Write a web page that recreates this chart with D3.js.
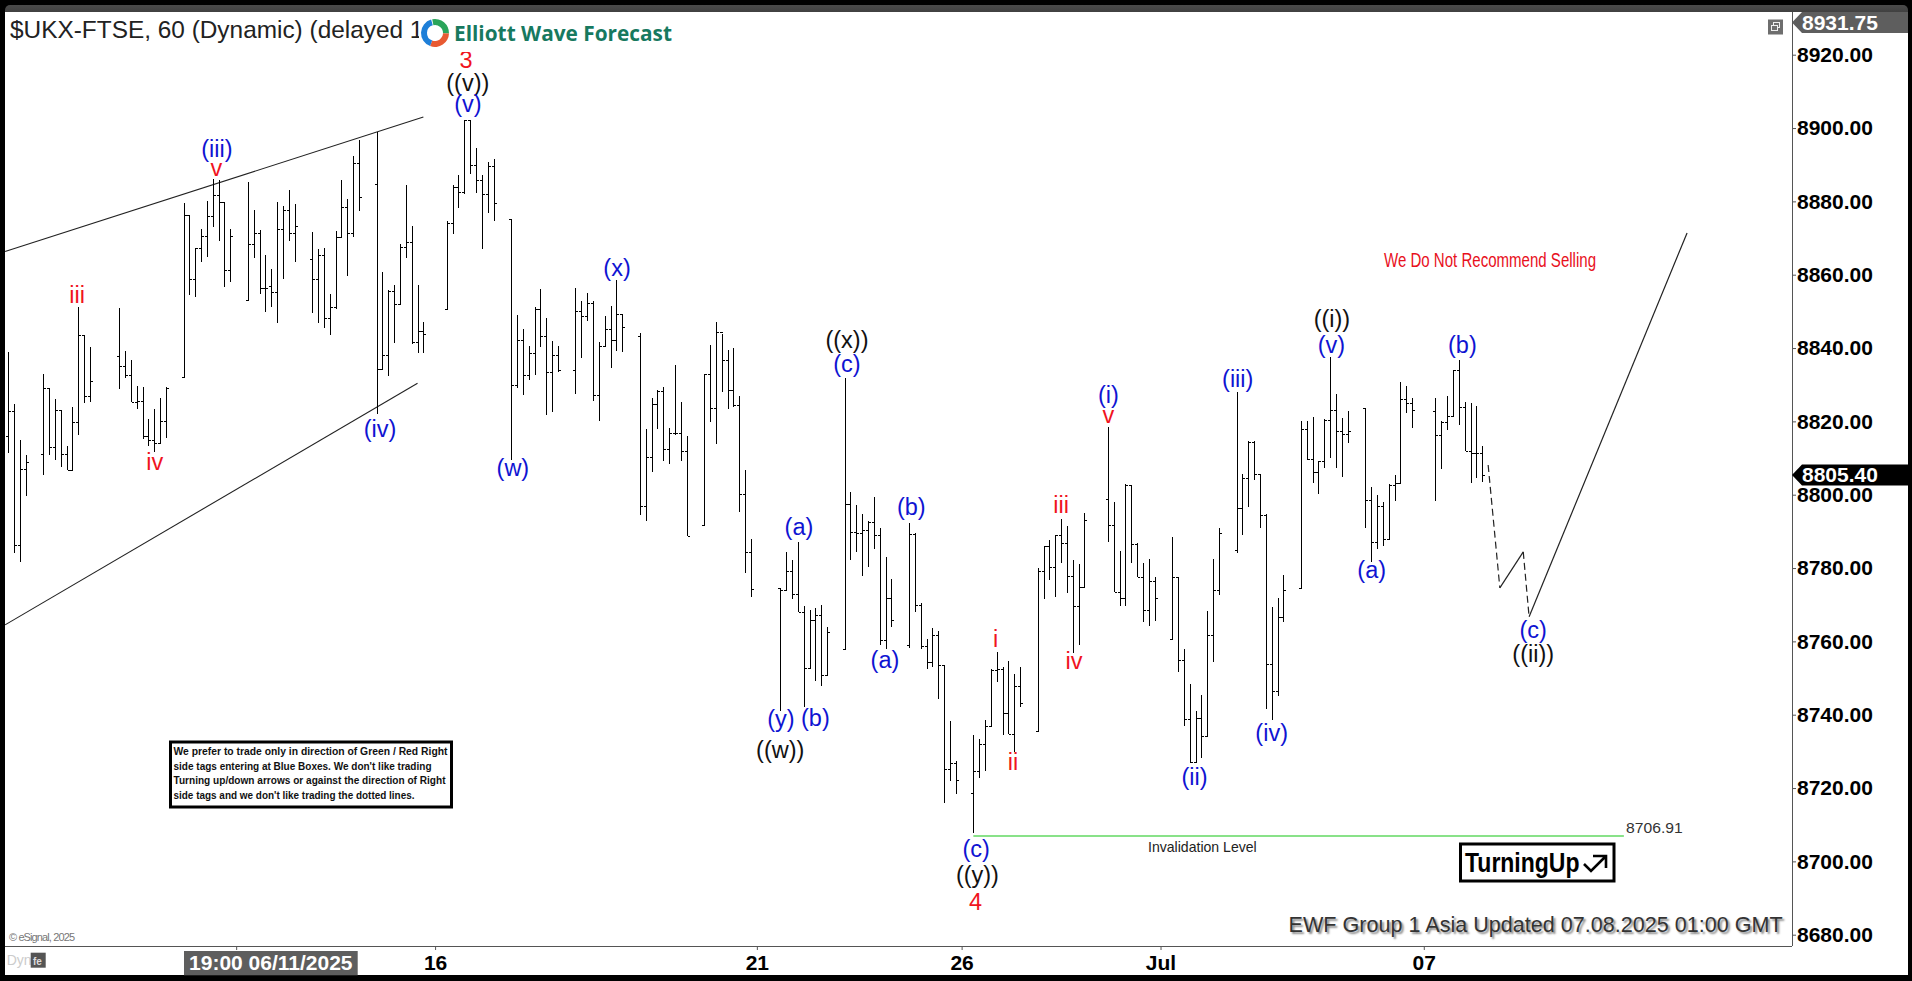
<!DOCTYPE html>
<html><head><meta charset="utf-8">
<script src="https://cdnjs.cloudflare.com/ajax/libs/d3/7.8.5/d3.min.js"></script>
<style>
html,body{margin:0;padding:0;background:#000;overflow:hidden}
svg{display:block}
text{font-family:"Liberation Sans",Arial,sans-serif}
</style></head><body><svg id="c" width="1912" height="981"></svg>
<script>
// Sessions on the slot axis
const sessionStarts=[0,6,19,30,41,52,63,75,86,97,108,119,132,143,154,165,176,188,199,210,221,232,244];
const sessionLengths=[4,9,9,9,9,9,9,9,9,9,9,9,9,9,9,9,9,9,9,9,9,9,9];
// OHLC series
const highs=[8838.9,8824.7,8814.9,8810.8,
8832.9,8829.1,8826.1,8823.1,8813.2,8823.9,8851.2,8843.5,8840.2,
8850.9,8839.2,8836.7,8829.6,8829.4,8820.6,8823.4,8826.4,8829.4,
8879.6,8876.3,8867.3,8872.5,8880.1,8886.1,8885.8,8879.8,8872.5,
8885.3,8877.6,8872.2,8865.4,8861.5,8879.8,8878.7,8883.1,8879.3,
8871.6,8867,8867.3,8854.7,8871.9,8885.8,8880.6,8892.4,8896.7,
8898.9,8860.7,8855.8,8857.2,8868.4,8884.4,8873.3,8857.2,8847.1,
8874.6,8884.4,8887.2,8902.2,8902.2,8894.5,8887.2,8890.7,8891.5,
8875.2,8849,8845.2,8840.5,8851.2,8856.1,8848.2,8841.9,8840.5,
8856.4,8852.8,8855,8852.8,8841.6,8848.7,8851.4,8858.5,8849.3,
8844.1,8817.9,8826.4,8828.5,8829.4,8818.2,8835.4,8825.3,8816,
8832.9,8840.8,8847.1,8843.8,8839.4,8840,8826.9,8806.7,8787.9,
8774.5,8784.4,8782.2,8787.1,8769.6,8768.5,8769.1,8769.9,8763.9,
8831.8,8800.7,8797.2,8794.7,8792.8,8799.4,8790.9,8783,8777,
8792.3,8789.5,8770.4,8760.6,8763.6,8762.8,8753.5,8738.3,8727.4,
8734.5,8733.4,8738.5,8752.4,8757.1,8753,8754.6,8751.1,8753,
8780,8786,8787.6,8789,8793.4,8791.5,8782.2,8781.1,8795,
8818.4,8798,8784.6,8802.9,8802.6,8786.8,8781.4,8782.5,8777.5,
8788.4,8777.5,8757.9,8748.4,8741,8745.4,8768.3,8782.5,8790.9,
8828,8805.6,8814.6,8814.6,8805.6,8794.7,8769.4,8771.8,8778.1,
8820,8820,8821.2,8809.2,8820.6,8837.5,8827.4,8820.9,8822.8,
8823.6,8802.1,8799.9,8798,8802.9,8805.4,8830.7,8829.6,8826.4,
8826.4,8820,8826.9,8834,8836.7,8825.3,8825,8824.2,8813.2];
const lows=[8811.3,8784,8781.6,8799.6,
8805.4,8810.8,8809.5,8807.5,8806.7,8806.7,8816.3,8825,8825.3,
8828.8,8831.8,8825.3,8823.4,8815.2,8813.2,8811.6,8814.1,8815.4,
8832.1,8854.5,8853.9,8863.4,8864.8,8873,8869.2,8856.6,8858,
8853.1,8864.5,8854.7,8849.8,8851.2,8846.8,8858.8,8869.2,8863.4,
8849.5,8846.8,8845.4,8843.5,8850.6,8870,8859.6,8870.3,8877.4,
8822,8834.3,8832.4,8841.4,8852,8864.5,8841.1,8838.6,8838.6,
8850.6,8871.1,8878.2,8882,8887.4,8882.3,8867,8876.8,8874.6,
8809.5,8829.1,8827.2,8831.3,8832.6,8840.2,8821.7,8822.5,8833.4,
8827.4,8837.2,8847.4,8825.5,8820,8840.2,8834.5,8839.2,8838.9,
8794.4,8792.8,8806.2,8817.9,8809.2,8808.4,8816.3,8809.2,8788.7,
8791.7,8819.8,8813.8,8828,8823.4,8823.9,8795.3,8778.6,8772.1,
8741,8773.7,8771.5,8768,8742.1,8752.7,8749.2,8747.8,8750.8,
8757.9,8782.2,8784.4,8777.8,8780.3,8785.2,8759,8757.9,8763.9,
8758.2,8768,8757.9,8752.5,8753,8744.3,8715.9,8721.9,8718.4,
8707.7,8722.7,8724.6,8736.9,8748.9,8734.5,8734.7,8729.8,8742.1,
8735.5,8771.5,8776.7,8772.1,8781.4,8773.2,8756.8,8759,8774.8,
8787.1,8773.5,8769.6,8769.6,8781.4,8777.5,8765.3,8764.2,8765.5,
8760.6,8751.6,8736.9,8726.8,8727.1,8728.2,8734.2,8754.4,8772.6,
8784,8789,8796.6,8804,8790.9,8741.5,8738.5,8745.1,8765.3,
8774.5,8809.5,8803.2,8800.2,8807.3,8810,8807.3,8804.8,8814.1,
8790.9,8781.6,8785.2,8786,8787.9,8798.2,8803.2,8822.3,8818.2,
8798.2,8807,8817.6,8821.4,8819,8811.9,8803.2,8804.5,8803.4];
const opens=[8816,8822.8,8786.2,8807,
8811.1,8829.1,8813,8823.1,8811.1,8806.7,8819.8,8843.5,8826.9,
8837.8,8835.1,8832.6,8825.3,8825.5,8816,8814.9,8814.1,8820,
8832.1,8876.3,8858.8,8867.3,8870.5,8876,8881.7,8879.8,8861.3,
8853.1,8868.4,8871.4,8856.4,8856.9,8855.3,8872.5,8877.6,8871.4,
8864.3,8858.8,8865.4,8848.2,8851.2,8870.3,8878.4,8871.4,8890.4,
8884.7,8834.3,8838.1,8855.5,8852,8867.5,8868.9,8841.6,8844.6,
8850.6,8874.1,8883.9,8882.5,8902.2,8889.9,8885.8,8882,8889.6,
8875.2,8829.9,8842.2,8832.6,8838.6,8850.6,8843.3,8833.4,8838.1,
8834,8850.1,8848.7,8852.3,8827.2,8840.5,8845.2,8842.2,8849.3,
8843.3,8796.9,8810.3,8824.7,8828.3,8812.5,8816.8,8816.8,8811.9,
8791.7,8832.9,8823.6,8844.3,8836.7,8828.5,8824.4,8800.2,8784.4,
8774.5,8774,8779.2,8772.9,8768,8752.7,8765.8,8767.2,8750.8,
8757.9,8797.4,8789.8,8789.5,8790.4,8792.5,8789,8760.4,8771.8,
8759,8789.3,8769.9,8758.7,8754.4,8761.7,8753.5,8725.2,8726.8,
8718.6,8724.6,8732,8736.9,8752.2,8752.4,8740.5,8734.7,8747.8,
8735.5,8779.2,8786,8780.3,8789,8786.8,8777.8,8769.6,8774.8,
8798.8,8791.7,8773.5,8771.8,8802.6,8786.5,8777.5,8768.5,8776.4,
8760.6,8777.5,8754.9,8738.8,8727.1,8739.1,8734.2,8761.7,8774,
8784.9,8796.4,8804.5,8814.4,8805.6,8794.4,8753.8,8746.5,8766.6,
8774.5,8817.9,8809.7,8806.2,8809.2,8820.4,8823.1,8817.4,8816.5,
8823.6,8798.5,8787.1,8796.9,8787.9,8802.6,8803.2,8826.1,8825,
8822.8,8816.3,8819.8,8821.4,8834,8823.9,8811.9,8811.4,8811.4];
const closes=[8822.8,8786.2,8807,8808.9,
8829.1,8813,8823.1,8811.1,8806.7,8819.8,8843.5,8826.9,8831,
8835.1,8832.6,8825.3,8825.5,8816,8814.9,8814.1,8820,8829.1,
8876.3,8858.8,8867.3,8870.5,8876,8881.7,8879.8,8861.3,8870.5,
8868.4,8871.4,8856.4,8856.4,8855.3,8872.5,8877.6,8871.4,8873.3,
8858.8,8865.4,8848.2,8851.2,8870.3,8878.4,8871.4,8890.4,8881.2,
8834.3,8838.1,8855.5,8852,8867.5,8868.9,8841.6,8844.6,8843.8,
8874.1,8883.9,8882.5,8902.2,8889.9,8885.8,8882,8889.6,8879.5,
8829.9,8842.2,8832.6,8838.6,8850.6,8843.3,8833.4,8838.1,8834,
8850.1,8848.7,8852.3,8827.2,8840.5,8845.2,8842.2,8849.3,8845.7,
8796.9,8810.3,8824.7,8828.3,8812.5,8816.8,8816.8,8811.9,8788.7,
8832.9,8823.6,8844.3,8836.7,8828.5,8824.4,8800.2,8784.4,8774.3,
8774,8779.2,8772.9,8768,8752.7,8765.8,8767.2,8750.8,8762.5,
8797.4,8789.8,8789.5,8790.4,8792.5,8789,8760.4,8771.8,8765.8,
8789.3,8769.9,8758.7,8754.4,8761.7,8753.5,8725.2,8726.8,8722.2,
8724.6,8732,8736.9,8752.2,8752.4,8740.5,8734.7,8747.8,8743.2,
8779.2,8786,8780.3,8789,8786.8,8777.8,8769.6,8774.8,8793.1,
8791.7,8773.5,8771.8,8802.6,8786.5,8777.5,8768.5,8776.4,8771.8,
8777.5,8754.9,8738.8,8727.1,8739.1,8734.2,8761.7,8774,8789.5,
8796.4,8804.5,8814.4,8805.6,8794.4,8753.8,8746.5,8766.6,8774,
8817.9,8809.7,8806.2,8809.2,8820.4,8823.1,8817.4,8816.5,8817.4,
8798.5,8787.1,8796.9,8787.9,8802.6,8803.2,8826.1,8825,8823.1,
8816.3,8819.8,8821.4,8834,8823.9,8811.9,8811.4,8811.4,8805.4];
// Axes
const priceTicks=[8680,8700,8720,8740,8760,8780,8800,8820,8840,8860,8880,8900,8920];
const timeTickSlots=[39,73,128,163,197,242];
const timeTickLabels=["","16","21","26","Jul","07"];
// Wave labels
const waveTexts=["iii","3","((v))","(v)","(iii)","v","iv","(iv)","(w)","(x)","((x))","(c)","(a)","(b)","(y)","(b)","((w))","(a)","i","ii","iii","iv","(i)","v","(iii)","(a)","(ii)","(iv)","(c)","((y))","4","((i))","(v)","(b)","(c)","((ii))"];
const waveSlots=[11.8,78.3,78.6,78.6,35.7,35.6,25.1,63.6,86.3,104.1,143.4,143.4,135.2,154.4,132.1,138,132,149.9,168.8,171.8,180,182.2,188.1,188.1,210.2,233.1,202.8,216,165.5,165.7,165.4,226.3,226.2,248.6,260.7,260.7];
const wavePrices=[8852.3,8916.4,8910.1,8904.4,8892.1,8887,8806.7,8815.8,8805.1,8859.6,8840.1,8833.5,8789,8794.4,8736.7,8737,8728.3,8752.8,8758.5,8724.9,8795,8752.5,8825,8819.5,8829.4,8777.3,8720.8,8732.8,8701.3,8694,8686.8,8845.8,8838.7,8838.6,8760.9,8754.3];
const waveDegrees=["r","r","k","b","b","r","r","b","b","b","k","b","b","b","b","b","k","b","r","r","r","r","b","r","b","b","b","b","b","k","r","k","b","b","b","k"];
// Channel and projection
const channelSlots=[[-0.5,71],[-0.5,70]];
const channelPrices=[[8866.3,8903],[8764.5,8830.4]];
const projectionSlots=[253,255,259,260,287];
const projectionPrices=[8808.1,8774.6,8784.4,8766.7,8871.4];
const invalidationLevel=8706.91;
const invalidationSlots=[165,276.2];
const lastPrice=8805.40;
const topPrice=8931.75;
const disclaimer=["We prefer to trade only in direction of Green / Red Right","side tags entering at Blue Boxes. We don't like trading","Turning up/down arrows or against the direction of Right","side tags and we don't like trading the dotted lines."];

const slots=sessionStarts.flatMap((s,i)=>d3.range(s,s+sessionLengths[i]));
const x=d3.scaleLinear().domain([0,252]).range([8,1482.3]);
const y=d3.scaleLinear().domain([8680,8920]).range([934.7,54.7]);
const svg=d3.select("#c");
const px=v=>Math.round(v)+0.5;

// frame
svg.append("rect").attr("width",1912).attr("height",981).attr("fill","#000");
const defs=svg.append("defs");
const g=defs.append("linearGradient").attr("id","tb").attr("x1",0).attr("x2",0).attr("y1",0).attr("y2",1);
g.append("stop").attr("offset",0).attr("stop-color","#4a4a4a");
g.append("stop").attr("offset",1).attr("stop-color","#222");
svg.append("rect").attr("x",5).attr("y",5).attr("width",1903).attr("height",30).attr("rx",5).attr("fill","url(#tb)");
svg.append("rect").attr("x",5).attr("y",12).attr("width",1903).attr("height",963).attr("fill","#fff");

// axes
const yAxis=svg.append("g").attr("transform","translate(1792,0)")
 .call(d3.axisRight(y).tickValues(priceTicks).tickSize(4).tickPadding(1).tickFormat(d3.format(".2f")));
yAxis.select(".domain").attr("d","M0.5,12V946").attr("stroke","#555");
yAxis.selectAll(".tick line").attr("stroke","#555");
yAxis.selectAll("text").attr("font-size",21).attr("font-weight",700).attr("font-family","Liberation Sans").attr("fill","#000");

const xAxis=svg.append("g").attr("transform","translate(0,946)")
 .call(d3.axisBottom(x).tickValues(timeTickSlots).tickSize(4).tickPadding(6)
   .tickFormat(d=>timeTickLabels[timeTickSlots.indexOf(d)]));
xAxis.select(".domain").attr("d","M5,0.5H1792").attr("stroke","#555");
xAxis.selectAll(".tick line").attr("stroke","#555");
xAxis.selectAll("text").attr("font-size",21).attr("font-weight",700).attr("font-family","Liberation Sans").attr("fill","#000")
  .attr("dy",null).attr("y",24);

// channel lines
svg.selectAll(".chan").data(channelSlots).join("line").attr("class","chan")
 .attr("x1",d=>x(d[0])).attr("x2",d=>x(d[1]))
 .attr("y1",(d,i)=>y(channelPrices[i][0])).attr("y2",(d,i)=>y(channelPrices[i][1]))
 .attr("stroke","#222").attr("stroke-width",1.1);

// OHLC bars
const bars=svg.append("g").attr("shape-rendering","crispEdges").attr("stroke","#000").attr("stroke-width",1);
const bar=bars.selectAll("g").data(slots).join("g");
bar.append("line").attr("x1",d=>px(x(d))).attr("x2",d=>px(x(d)))
 .attr("y1",(d,i)=>Math.round(y(highs[i]))).attr("y2",(d,i)=>Math.round(y(lows[i])));
bar.append("line").attr("x1",d=>px(x(d))-2.5).attr("x2",d=>px(x(d)))
 .attr("y1",(d,i)=>px(y(opens[i]))).attr("y2",(d,i)=>px(y(opens[i])));
bar.append("line").attr("x1",d=>px(x(d))).attr("x2",d=>px(x(d))+2.5)
 .attr("y1",(d,i)=>px(y(closes[i]))).attr("y2",(d,i)=>px(y(closes[i])));

// projection: dashed falls, solid rises
projectionSlots.slice(1).forEach((s,i)=>{
  const dashed=i===0||i===2;
  svg.append("line").attr("x1",x(projectionSlots[i])).attr("y1",y(projectionPrices[i]))
   .attr("x2",x(s)).attr("y2",y(projectionPrices[i+1]))
   .attr("stroke","#222").attr("stroke-width",1.2).attr("stroke-dasharray",dashed?"7 4":null);
});

// invalidation
svg.append("line").attr("x1",x(invalidationSlots[0])).attr("x2",x(invalidationSlots[1]))
 .attr("y1",y(invalidationLevel)).attr("y2",y(invalidationLevel)).attr("stroke","#62d862").attr("stroke-width",1.5);
svg.append("text").attr("x",1626).attr("y",832.7).attr("font-size",15.5).attr("fill","#333")
 .attr("textLength",56.7).attr("lengthAdjust","spacingAndGlyphs").text(invalidationLevel.toFixed(2));
svg.append("text").attr("x",1148).attr("y",851.7).attr("font-size",14.5).attr("fill","#222")
 .attr("textLength",108.7).attr("lengthAdjust","spacingAndGlyphs").text("Invalidation Level");

// wave labels
const waveColor={r:"#f0141e",b:"#0f14d2",k:"#111"};
svg.selectAll(".wave").data(waveTexts).join("text").attr("class","wave")
 .attr("x",(d,i)=>x(waveSlots[i])).attr("y",(d,i)=>y(wavePrices[i]))
 .attr("text-anchor","middle").attr("font-size",23.5)
 .attr("fill",(d,i)=>waveColor[waveDegrees[i]]).text(d=>d);

// title + logo
svg.append("text").attr("x",10).attr("y",38).attr("font-size",24.4).attr("fill","#222").text("$UKX-FTSE, 60 (Dynamic) (delayed 15 min)");
svg.append("rect").attr("x",419).attr("y",14).attr("width",260).attr("height",38).attr("fill","#fff");
const logo=svg.append("g").attr("transform","translate(435,33)").attr("fill","none").attr("stroke-width",6.5);
const arc=d3.arc().innerRadius(8).outerRadius(14);
[["#2aa45a",-0.2,1.6],["#e85a32",1.6,3.5],["#1e7fd8",3.5,6.0]].forEach(a=>{
 logo.append("path").attr("d",arc({startAngle:a[1],endAngle:a[2]})).attr("fill",a[0]);
});
svg.append("text").attr("x",454).attr("y",41).attr("font-size",21).attr("font-weight",700)
 .attr("style","font-family:'Open Sans'").attr("fill","#17795f").attr("textLength",218).attr("lengthAdjust","spacingAndGlyphs").text("Elliott Wave Forecast");

// red note
svg.append("text").attr("x",1384).attr("y",267).attr("font-size",20.5).attr("fill","#e8101c")
 .attr("textLength",212).attr("lengthAdjust","spacingAndGlyphs").text("We Do Not Recommend Selling");

// top tag, last tag
function tag(val,fill,top,h){
 svg.append("path").attr("d",`M1792,${top+h/2}L1802,${top}H1908V${top+h}H1802Z`).attr("fill",fill);
 svg.append("text").attr("x",1802).attr("y",top+h-3).attr("font-size",21).attr("font-weight",700).attr("fill","#fff").attr("style","font-family:'Liberation Sans'").text(val.toFixed(2));
}
tag(topPrice,"#5e5e5e",12,21);
tag(lastPrice,"#000",y(lastPrice)-10.5,21);

// window icon
const ic=svg.append("g");
ic.append("rect").attr("x",1768).attr("y",19.5).attr("width",15).attr("height",15).attr("fill","#6e6e6e");
ic.append("rect").attr("x",1773.5).attr("y",22.5).attr("width",6).attr("height",5).attr("fill","none").attr("stroke","#eee");
ic.append("rect").attr("x",1771.5).attr("y",25.5).attr("width",6).attr("height",5).attr("fill","#6e6e6e").attr("stroke","#eee");

// disclaimer
svg.append("rect").attr("x",170.5).attr("y",742).attr("width",281).attr("height",65).attr("fill","#fff").attr("stroke","#000").attr("stroke-width",3);
const discW=[274,258,272,241];
disclaimer.forEach((t,i)=>svg.append("text").attr("x",173.5).attr("y",755+i*14.7).attr("font-size",11.6).attr("font-weight",700).attr("fill","#111")
 .attr("textLength",discW[i]).attr("lengthAdjust","spacingAndGlyphs").text(t));

// Turning up box
svg.append("rect").attr("x",1460.5).attr("y",844).attr("width",153.5).attr("height",37).attr("fill","#fff").attr("stroke","#000").attr("stroke-width",3);
svg.append("text").attr("x",1465).attr("y",872).attr("font-size",27).attr("font-weight",700).attr("fill","#000")
 .attr("textLength",114.5).attr("lengthAdjust","spacingAndGlyphs").text("TurningUp");
svg.append("path").attr("d","M1584,864L1591,871L1606,856M1593,856H1606V868").attr("fill","none").attr("stroke","#000").attr("stroke-width",2.6);

// update stamp
svg.append("text").attr("x",1288.6).attr("y",932).attr("font-size",21.5).attr("fill","#333")
 .attr("textLength",494).attr("lengthAdjust","spacingAndGlyphs")
 .attr("style","text-shadow:2px 2px 2px #888").text("EWF Group 1 Asia Updated 07.08.2025 01:00 GMT");

// footer
svg.append("text").attr("x",9).attr("y",941).attr("font-size",11).attr("fill","#777").attr("textLength",66).text("© eSignal, 2025");
svg.append("rect").attr("x",184).attr("y",951).attr("width",173.7).attr("height",24.3).attr("fill","#5e5e5e");
svg.append("text").attr("x",270.8).attr("y",970).attr("text-anchor","middle").attr("font-size",21).attr("font-weight",700).attr("fill","#fff").text("19:00 06/11/2025");
svg.append("text").attr("x",6.7).attr("y",965).attr("font-size",14).attr("fill","#ccc").text("Dyn");
svg.append("rect").attr("x",30.7).attr("y",952.7).attr("width",15).attr("height",15).attr("fill","#555");
svg.append("text").attr("x",33).attr("y",965).attr("font-size",10).attr("font-weight",700).attr("fill","#ddd").text("fe");
</script></body></html>
